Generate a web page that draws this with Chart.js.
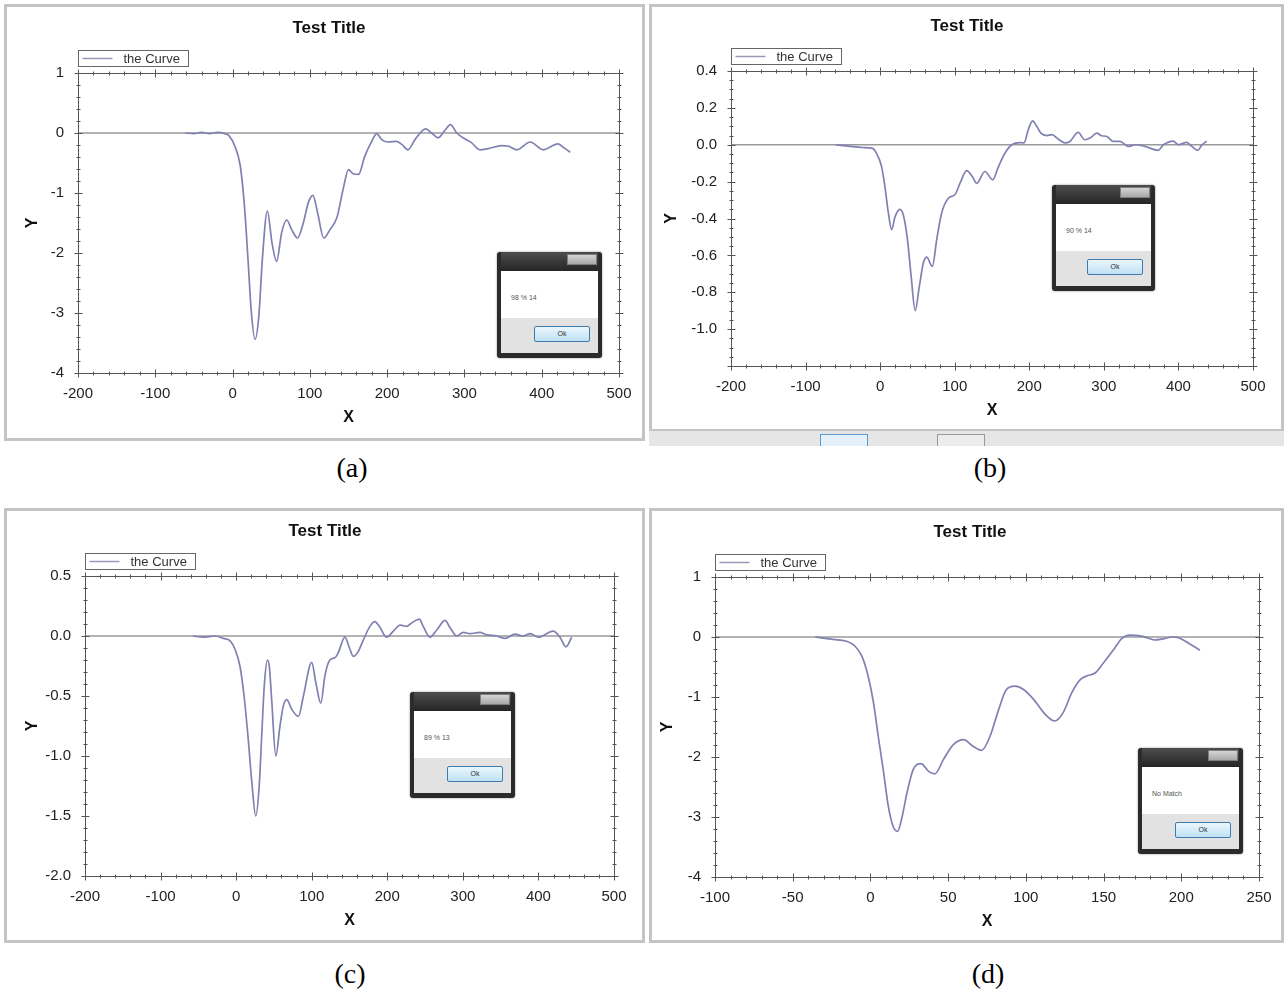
<!DOCTYPE html>
<html>
<head>
<meta charset="utf-8">
<script src="https://cdn.jsdelivr.net/npm/chart.js@4.4.1/dist/chart.umd.min.js"></script>
<style>
  html, body { margin: 0; padding: 0; background: #fff; }
  body { width: 1284px; height: 989px; position: relative; overflow: hidden;
         font-family: "Liberation Sans", Arial, sans-serif; }
  .panel { position: absolute; box-sizing: border-box; border: 3px solid #c4c4c4; background: #fff; }
  .panel canvas { position: absolute; left: 0; top: 0; }
  .strip { position: absolute; background: #e6e6e6; overflow: hidden; }
  .strip .b { position: absolute; top: 3px; width: 48px; height: 20px; box-sizing: border-box; }
  .dlg { position: absolute; box-sizing: border-box; background: #2b2b2b; border-radius: 3px;
         padding: 0 4px 5px 4px; box-shadow: 0 0 2px rgba(0,0,0,0.5); }
  .dlg .bar { height: 19px; position: relative; background: linear-gradient(#4d4d4d, #252525); }
  .dlg .close { position: absolute; right: 1px; top: 2px; width: 30px; height: 11px;
                background: linear-gradient(#d4d4d4, #a9a9a9); border: 1px solid #7d7d7d; box-sizing: border-box; }
  .dlg .body { background: #fff; height: 47px; position: relative; }
  .dlg .msg { position: absolute; left: 10px; top: 23px; font-size: 7px; color: #555; white-space: nowrap;
              -webkit-font-smoothing: antialiased; }
  .dlg .foot { background: #e2e2e2; height: 35px; position: relative; }
  .dlg .btn { position: absolute; right: 8px; top: 8px; width: 56px; height: 16px; box-sizing: border-box;
              border: 1px solid #3c7bae; border-radius: 2px; background: linear-gradient(#eaf6fc, #bfe1f3);
              font-size: 7px; line-height: 14px; text-align: center; color: #333; }
  .caption { position: absolute; font-family: "Liberation Serif", "Times New Roman", serif; font-size: 28px;
             color: #000; transform: translate(-50%, -50%); white-space: nowrap; }
</style>
</head>
<body>

<div class="panel" id="pa" style="left:4px;top:4px;width:641px;height:437px"><canvas id="ca" width="635" height="431"></canvas></div>
<div class="panel" id="pb" style="left:649px;top:4px;width:635px;height:428px"><canvas id="cb" width="629" height="422"></canvas></div>
<div class="strip" style="left:649px;top:431px;width:635px;height:15px">
  <div class="b" style="left:171px;border:1px solid #5b9bd0;background:#e4f1fa"></div>
  <div class="b" style="left:288px;border:1px solid #9a9a9a;background:#ececec"></div>
</div>
<div class="panel" id="pc" style="left:4px;top:508px;width:641px;height:435px"><canvas id="cc" width="635" height="429"></canvas></div>
<div class="panel" id="pd" style="left:649px;top:508px;width:635px;height:435px"><canvas id="cd" width="629" height="429"></canvas></div>

<div class="dlg" style="left:497px;top:252px;width:105px;height:106px">
  <div class="bar"><div class="close"></div></div>
  <div class="body"><span class="msg">98 % 14</span></div>
  <div class="foot"><div class="btn">Ok</div></div>
</div>
<div class="dlg" style="left:1052px;top:185px;width:103px;height:106px">
  <div class="bar"><div class="close"></div></div>
  <div class="body"><span class="msg">90 % 14</span></div>
  <div class="foot"><div class="btn">Ok</div></div>
</div>
<div class="dlg" style="left:410px;top:692px;width:105px;height:106px">
  <div class="bar"><div class="close"></div></div>
  <div class="body"><span class="msg">89 % 13</span></div>
  <div class="foot"><div class="btn">Ok</div></div>
</div>
<div class="dlg" style="left:1138px;top:748px;width:105px;height:106px">
  <div class="bar"><div class="close"></div></div>
  <div class="body"><span class="msg">No Match</span></div>
  <div class="foot"><div class="btn">Ok</div></div>
</div>

<div class="caption" style="left:352px;top:468px">(a)</div>
<div class="caption" style="left:990px;top:468px">(b)</div>
<div class="caption" style="left:350px;top:974px">(c)</div>
<div class="caption" style="left:988px;top:974px">(d)</div>

<script>
// ---- shared text ----
const chartTitle = 'Test Title';
const seriesName = 'the Curve';
const xAxisName = 'X';
const yAxisName = 'Y';

// ---- panel (a) ----
const xRangeA = [-200, 500];
const yRangeA = [-4, 1];
const stepsA = [100, 20, 1, 0.2];          // x major, x minor, y major, y minor
const curveAX = [-61, -50, -40, -30, -20, -10, -5, 3, 10, 15, 20, 24, 29, 34, 38.5, 45, 51, 57, 63.5, 70,
  76.5, 84, 91.5, 98, 104, 110, 118, 126, 135, 143, 150, 156, 163, 171, 180, 186.5, 193, 201.5, 212, 219,
  227, 236, 250, 257.5, 266, 275, 282, 290, 301, 309, 320, 331, 348, 357, 368, 385, 402, 421, 428, 437];
const curveAY = [0, -0.01, 0.01, -0.01, 0.01, -0.01, -0.04, -0.22, -0.55, -1.16, -2.11, -2.94, -3.44, -3.05,
  -2.11, -1.30, -1.83, -2.14, -1.66, -1.45, -1.61, -1.75, -1.50, -1.16, -1.04, -1.33, -1.75, -1.61, -1.41,
  -0.94, -0.61, -0.68, -0.69, -0.39, -0.14, -0.01, -0.11, -0.15, -0.14, -0.19, -0.28, -0.11, 0.07, 0.0,
  -0.08, 0.05, 0.14, 0.0, -0.10, -0.16, -0.28, -0.26, -0.21, -0.22, -0.28, -0.15, -0.28, -0.18, -0.24, -0.32];

// ---- panel (b) ----
const xRangeB = [-200, 500];
const yRangeB = [-1.2, 0.4];
const stepsB = [100, 20, 0.2, 0.05];
const curveBX = [-60, -49, -36, -23, -11, -5, 2, 6.5, 11, 15.5, 20, 26.5, 31, 36.5, 41.5, 47, 52.5, 58, 62.5,
  70, 76, 82.5, 91.5, 100.5, 107, 116, 124, 129.5, 140.5, 151, 158.5, 167.5, 176.5, 187.5, 193, 198.5, 204.5,
  210, 215.5, 223.5, 230, 239, 248, 254.5, 265.5, 274.5, 281.5, 290.5, 297, 304, 312.5, 321.5, 333, 342,
  355, 373, 380, 393, 400, 411, 418, 426, 431, 438];
const curveBY = [0, -0.005, -0.01, -0.015, -0.018, -0.045, -0.12, -0.23, -0.37, -0.46, -0.39, -0.35, -0.38,
  -0.51, -0.71, -0.90, -0.77, -0.64, -0.61, -0.66, -0.51, -0.37, -0.29, -0.27, -0.21, -0.14, -0.175, -0.21,
  -0.145, -0.19, -0.12, -0.045, 0.0, 0.012, 0.01, 0.08, 0.13, 0.10, 0.063, 0.05, 0.055, 0.03, 0.01, 0.018,
  0.067, 0.027, 0.036, 0.063, 0.049, 0.045, 0.018, 0.018, -0.009, 0.0, -0.009, -0.03, 0.0, 0.02, 0.0, 0.013,
  -0.009, -0.03, -0.003, 0.02];

// ---- panel (c) ----
const xRangeC = [-200, 500];
const yRangeC = [-2, 0.5];
const stepsC = [100, 20, 0.5, 0.1];
const curveCX = [-57, -43.5, -28, -17, -8, -1.5, 5, 10.5, 16, 20.5, 26, 30.5, 34, 37.5, 41.5, 44, 47, 52.5,
  58, 62.5, 67, 73.5, 82.5, 89, 100, 105.5, 112, 117.5, 124, 131, 135, 144, 150, 155, 161.5, 168.5, 177,
  183.5, 190.5, 199, 208, 217, 225.5, 232.5, 242.5, 247.5, 256.5, 265.5, 276.5, 283, 292, 300.5, 309.5,
  322.5, 331.5, 345, 356, 369, 380, 389, 400, 419.5, 428.5, 436.5, 444];
const curveCY = [0, -0.01, 0, -0.02, -0.04, -0.11, -0.25, -0.50, -0.86, -1.20, -1.50, -1.25, -0.81, -0.39,
  -0.20, -0.26, -0.53, -1.00, -0.75, -0.58, -0.53, -0.61, -0.67, -0.50, -0.22, -0.39, -0.56, -0.33, -0.20,
  -0.18, -0.14, -0.01, -0.10, -0.17, -0.13, -0.03, 0.08, 0.12, 0.07, -0.01, 0.04, 0.09, 0.08, 0.11, 0.14,
  0.08, -0.01, 0.05, 0.13, 0.07, 0.0, 0.03, 0.02, 0.03, 0.01, 0.0, -0.02, 0.015, 0.0, 0.02, -0.01, 0.04,
  -0.01, -0.09, -0.01];

// ---- panel (d) ----
const xRangeD = [-100, 250];
const yRangeD = [-4, 1];
const stepsD = [50, 10, 1, 0.2];
const curveDX = [-35.5, -24, -15.5, -10, -5.5, -1.5, 2, 5, 8.5, 11.5, 14.5, 17.5, 20, 23.5, 27.5, 32.5, 37.5,
  41.5, 47, 53.5, 60, 66, 71.5, 77, 82.5, 87.5, 93, 98.5, 105, 112.5, 118.5, 124, 129.5, 135, 139, 144.5,
  150, 156.5, 161.5, 167, 173.5, 179, 183, 188.5, 194, 199, 204.5, 212];
const curveDY = [0, -0.04, -0.07, -0.15, -0.32, -0.65, -1.10, -1.65, -2.26, -2.82, -3.15, -3.24, -3.04, -2.60,
  -2.21, -2.11, -2.24, -2.28, -2.04, -1.79, -1.71, -1.82, -1.89, -1.65, -1.21, -0.875, -0.82, -0.875, -1.04,
  -1.29, -1.40, -1.26, -0.93, -0.71, -0.65, -0.60, -0.43, -0.21, -0.03, 0.03, 0.02, -0.02, -0.05, -0.03,
  0.0, -0.02, -0.10, -0.22];

// ---- page geometry of each window (canvas origin = panel corner + border) ----
const layouts = {
  a: { canvas: 'ca', origin: [7, 7],   plot: [78, 73, 619, 373],   title: [329, 28],  yName: 33,  yDecimals: 0 },
  b: { canvas: 'cb', origin: [652, 7], plot: [731, 71, 1253, 366], title: [967, 26],  yName: 672, yDecimals: 1 },
  c: { canvas: 'cc', origin: [7, 511], plot: [85, 576, 614, 876],  title: [325, 531], yName: 33,  yDecimals: 1 },
  d: { canvas: 'cd', origin: [652, 511], plot: [715, 577, 1259, 877], title: [970, 532], yName: 668, yDecimals: 0 }
};

const AXIS_W = 60, AXIS_H = 60;
const CURVE_COLOR = 'rgb(128,128,178)';
const ZERO_COLOR = '#9a9a9a';
const FRAME_COLOR = '#555';

// Box frame with crossing major/minor ticks on all four sides, plus title, legend and axis names.
const frameAxes = {
  id: 'frameAxes',
  afterDatasetsDraw(chart, args, o) {
    const { ctx, chartArea: a, scales: { x, y } } = chart;
    const L = Math.round(a.left) + 0.5, R = Math.round(a.right) + 0.5;
    const T = Math.round(a.top) + 0.5, B = Math.round(a.bottom) + 0.5;
    ctx.save();
    ctx.strokeStyle = FRAME_COLOR;
    ctx.lineWidth = 1;
    ctx.strokeRect(L, T, R - L, B - T);
    const isMajor = (v, major) => Math.abs(v / major - Math.round(v / major)) < 1e-6;
    const walk = (scale, minor, major, draw) => {
      const n = Math.round((scale.max - scale.min) / minor);
      for (let i = 0; i <= n; i++) {
        const v = scale.min + i * minor;
        draw(Math.round(scale.getPixelForValue(v)) + 0.5, isMajor(v, major) ? 4 : 2);
      }
    };
    ctx.beginPath();
    walk(x, o.steps[1], o.steps[0], (p, len) => {
      ctx.moveTo(p, B - len); ctx.lineTo(p, B + len);
      ctx.moveTo(p, T - len); ctx.lineTo(p, T + len);
    });
    walk(y, o.steps[3], o.steps[2], (p, len) => {
      ctx.moveTo(L - len, p); ctx.lineTo(L + len, p);
      ctx.moveTo(R - len, p); ctx.lineTo(R + len, p);
    });
    ctx.stroke();
    ctx.restore();
  },
  afterDraw(chart, args, o) {
    const { ctx, chartArea: a } = chart;
    ctx.save();
    ctx.fillStyle = '#111';
    ctx.textAlign = 'center';
    ctx.textBaseline = 'middle';
    ctx.font = 'bold 17px "Liberation Sans", Arial, sans-serif';
    ctx.fillText(o.title, o.titleX, o.titleY);

    ctx.font = 'bold 16px "Liberation Sans", Arial, sans-serif';
    ctx.fillText(o.xName, (a.left + a.right) / 2, a.bottom + 45);
    ctx.translate(o.yNameX, (a.top + a.bottom) / 2);
    ctx.rotate(-Math.PI / 2);
    ctx.fillText(o.yName, 0, 0);
    ctx.restore();

    // legend box above the plot's top-left corner
    ctx.save();
    const lx = Math.round(a.left) + 0.5, ly = Math.round(a.top) - 23 + 0.5;
    ctx.strokeStyle = '#666';
    ctx.lineWidth = 1;
    ctx.strokeRect(lx, ly, 110, 16);
    ctx.strokeStyle = '#9a9ab8';
    ctx.lineWidth = 1.5;
    ctx.beginPath();
    ctx.moveTo(lx + 4, ly + 8);
    ctx.lineTo(lx + 34, ly + 8);
    ctx.stroke();
    ctx.fillStyle = '#333';
    ctx.font = '13px "Liberation Sans", Arial, sans-serif';
    ctx.textBaseline = 'middle';
    ctx.fillText(chart.data.datasets[0].label, lx + 45, ly + 8.5);
    ctx.restore();
  }
};

function makeChart(key, xRange, yRange, steps, xs, ys) {
  const lay = layouts[key];
  const cv = document.getElementById(lay.canvas);
  const [ox, oy] = lay.origin;
  const [pL, pT, pR, pB] = lay.plot;
  const L = pL - ox, T = pT - oy, R = pR - ox, B = pB - oy;
  const tickFont = { family: '"Liberation Sans", Arial, sans-serif', size: 15 };
  return new Chart(cv, {
    type: 'line',
    data: {
      datasets: [
        {
          label: seriesName,
          data: xs.map((v, i) => ({ x: v, y: ys[i] })),
          borderColor: CURVE_COLOR,
          borderWidth: 1.7,
          pointRadius: 0,
          cubicInterpolationMode: 'monotone',
          fill: false
        },
        {
          label: 'zero',
          data: [{ x: xRange[0], y: 0 }, { x: xRange[1], y: 0 }],
          borderColor: ZERO_COLOR,
          borderWidth: 1.6,
          pointRadius: 0,
          fill: false
        }
      ]
    },
    options: {
      responsive: false,
      animation: false,
      events: [],
      layout: { padding: { left: L - AXIS_W, top: T, right: cv.width - R, bottom: cv.height - B - AXIS_H } },
      plugins: {
        legend: { display: false },
        title: { display: false },
        tooltip: { enabled: false },
        frameAxes: {
          steps: steps,
          title: chartTitle,
          titleX: lay.title[0] - ox,
          titleY: lay.title[1] - oy,
          xName: xAxisName,
          yName: yAxisName,
          yNameX: lay.yName - ox
        }
      },
      scales: {
        x: {
          type: 'linear',
          min: xRange[0], max: xRange[1],
          grid: { display: false },
          border: { display: false },
          ticks: { stepSize: steps[0], autoSkip: false, maxRotation: 0, padding: 4, color: '#222', font: tickFont,
                    callback: v => String(Math.round(v)) },
          afterFit(s) { s.height = AXIS_H; s.paddingLeft = 0; s.paddingRight = 0; }
        },
        y: {
          type: 'linear',
          min: yRange[0], max: yRange[1],
          grid: { display: false },
          border: { display: false },
          ticks: { stepSize: steps[2], autoSkip: false, padding: 6, color: '#222', font: tickFont,
                   callback: v => (key === 'b' && Math.abs(v - yRange[0]) < 1e-6) ? '' : Number(v).toFixed(lay.yDecimals) },
          afterFit(s) { s.width = AXIS_W; s.paddingTop = 0; s.paddingBottom = 0; }
        }
      }
    },
    plugins: [frameAxes]
  });
}

makeChart('a', xRangeA, yRangeA, stepsA, curveAX, curveAY);
makeChart('b', xRangeB, yRangeB, stepsB, curveBX, curveBY);
makeChart('c', xRangeC, yRangeC, stepsC, curveCX, curveCY);
makeChart('d', xRangeD, yRangeD, stepsD, curveDX, curveDY);
</script>
</body>
</html>
